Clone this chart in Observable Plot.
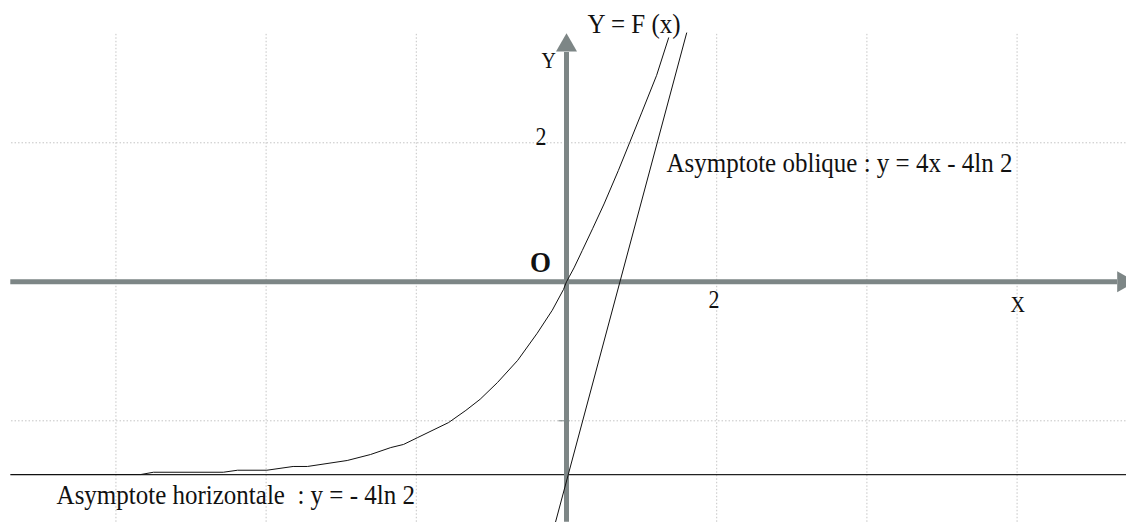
<!DOCTYPE html>
<html>
<head>
<meta charset="utf-8">
<script src="https://cdn.jsdelivr.net/npm/d3@7"></script>
<script src="https://cdn.jsdelivr.net/npm/@observablehq/plot@0.6"></script>
<style>
  html, body { margin: 0; padding: 0; background: #fff; }
  svg text { white-space: pre; }
</style>
</head>
<body>
<div id="chart"></div>
<script>
// ---- data ----
const curveX = [-7.39, -5.67, -5.50, -4.57, -4.38, -3.99, -3.64, -3.45, -2.92, -2.61, -2.34, -2.17, -1.98, -1.57, -1.34, -1.15, -0.92, -0.65, -0.39, -0.19, -0.04, 0, 0.04, 0.10, 0.21, 0.35, 0.50, 0.69, 0.84, 1.00, 1.20, 1.36];
const curveY = [-2.773, -2.773, -2.74, -2.74, -2.711, -2.711, -2.657, -2.657, -2.571, -2.485, -2.385, -2.34, -2.24, -2.025, -1.85, -1.69, -1.45, -1.13, -0.74, -0.41, -0.11, 0, 0.08, 0.20, 0.45, 0.77, 1.12, 1.60, 2.00, 2.43, 2.97, 3.51];

const obliqueX = [-0.147, 1.60];
const obliqueY = [-3.46, 3.58];

const horizontalY = -2.773;           // -4 ln 2
const horizontalX = [-7.40, 7.46];

const gridX = [-6, -4, -2, 2, 4, 6];
const gridY = [-2, 2];
const gridXExtent = [-7.39, 7.46];
const gridYExtent = [-3.46, 3.56];

const xAxisExtent = [-7.40, 7.337];
const yAxisExtent = [-3.46, 3.30];
const yTicks = [-2];

const labelText = ["Y = F (x)", "Y", "2", "O", "2", "X", "Asymptote oblique : y = 4x - 4ln 2", "Asymptote horizontale  : y = - 4ln 2"];
const labelX    = [0.28, -0.333, -0.413, -0.485, 1.891, 5.912, 1.332, -6.79];
const labelY    = [3.573, 3.083, 1.961, 0.148, -0.384, -0.441, 1.573, -3.19];
const labelSize = [25, 20, 22, 27, 22, 20, 25, 25];
const labelBold = [false, false, false, true, false, false, false, false];

// ---- tables ----
const curve = curveX.map((x, i) => ({x, y: curveY[i]}));
const oblique = obliqueX.map((x, i) => ({x, y: obliqueY[i]}));
const labels = labelText.map((t, i) => ({t, x: labelX[i], y: labelY[i], s: labelSize[i], b: labelBold[i]}));

const axisColor = "#7d8686";
const gridColor = "#c4c4c4";
const font = "'Liberation Serif', 'Times New Roman', serif";

const chart = Plot.plot({
  width: 1126,
  height: 522,
  margin: 0,
  style: {background: "#fff", fontFamily: font},
  x: {domain: [-7.537, 7.457], axis: null},
  y: {domain: [-3.463, 4.047], axis: null},
  marks: [
    Plot.ruleX(gridX, {y1: gridYExtent[0], y2: gridYExtent[1], stroke: gridColor, strokeWidth: 1, strokeDasharray: "1.5,2"}),
    Plot.ruleY(gridY, {x1: gridXExtent[0], x2: gridXExtent[1], stroke: gridColor, strokeWidth: 1, strokeDasharray: "1.5,2"}),
    Plot.ruleY([horizontalY], {x1: horizontalX[0], x2: horizontalX[1], stroke: "#222", strokeWidth: 1.3}),
    Plot.ruleY([0], {x1: xAxisExtent[0], x2: xAxisExtent[1], stroke: axisColor, strokeWidth: 5}),
    Plot.ruleX([0], {y1: yAxisExtent[0], y2: yAxisExtent[1], stroke: axisColor, strokeWidth: 5}),
    Plot.ruleY(yTicks, {x1: -0.1, x2: 0.05, stroke: axisColor, strokeWidth: 1}),
    Plot.dot([{x: 0, y: 3.40}], {x: "x", y: "y", symbol: "triangle", r: 7.8, fill: axisColor, stroke: "none"}),
    Plot.dot([{x: 7.414, y: 0}], {x: "x", y: "y", symbol: "triangle", r: 7.8, fill: axisColor, stroke: "none", rotate: 90}),
    Plot.line(oblique, {x: "x", y: "y", stroke: "#111", strokeWidth: 1, clip: true}),
    Plot.line(curve, {x: "x", y: "y", stroke: "#111", strokeWidth: 1, clip: true}),
    Plot.text(labels.filter(d => !d.b), {x: "x", y: "y", text: "t", fontSize: d => d.s, textAnchor: "start", lineAnchor: "bottom", fill: "#111", fontFamily: font}),
    Plot.text(labels.filter(d => d.b), {x: "x", y: "y", text: "t", fontSize: d => d.s, fontWeight: "bold", textAnchor: "start", lineAnchor: "bottom", fill: "#111", fontFamily: font})
  ]
});
// the reference glyphs are slightly taller than wide: stretch text vertically about its baseline
d3.select(chart).selectAll("text").each(function() {
  const t = this.getAttribute("transform") || "";
  this.setAttribute("transform", t + " scale(1,1.12)");
});
document.getElementById("chart").appendChild(chart);
</script>
</body>
</html>
